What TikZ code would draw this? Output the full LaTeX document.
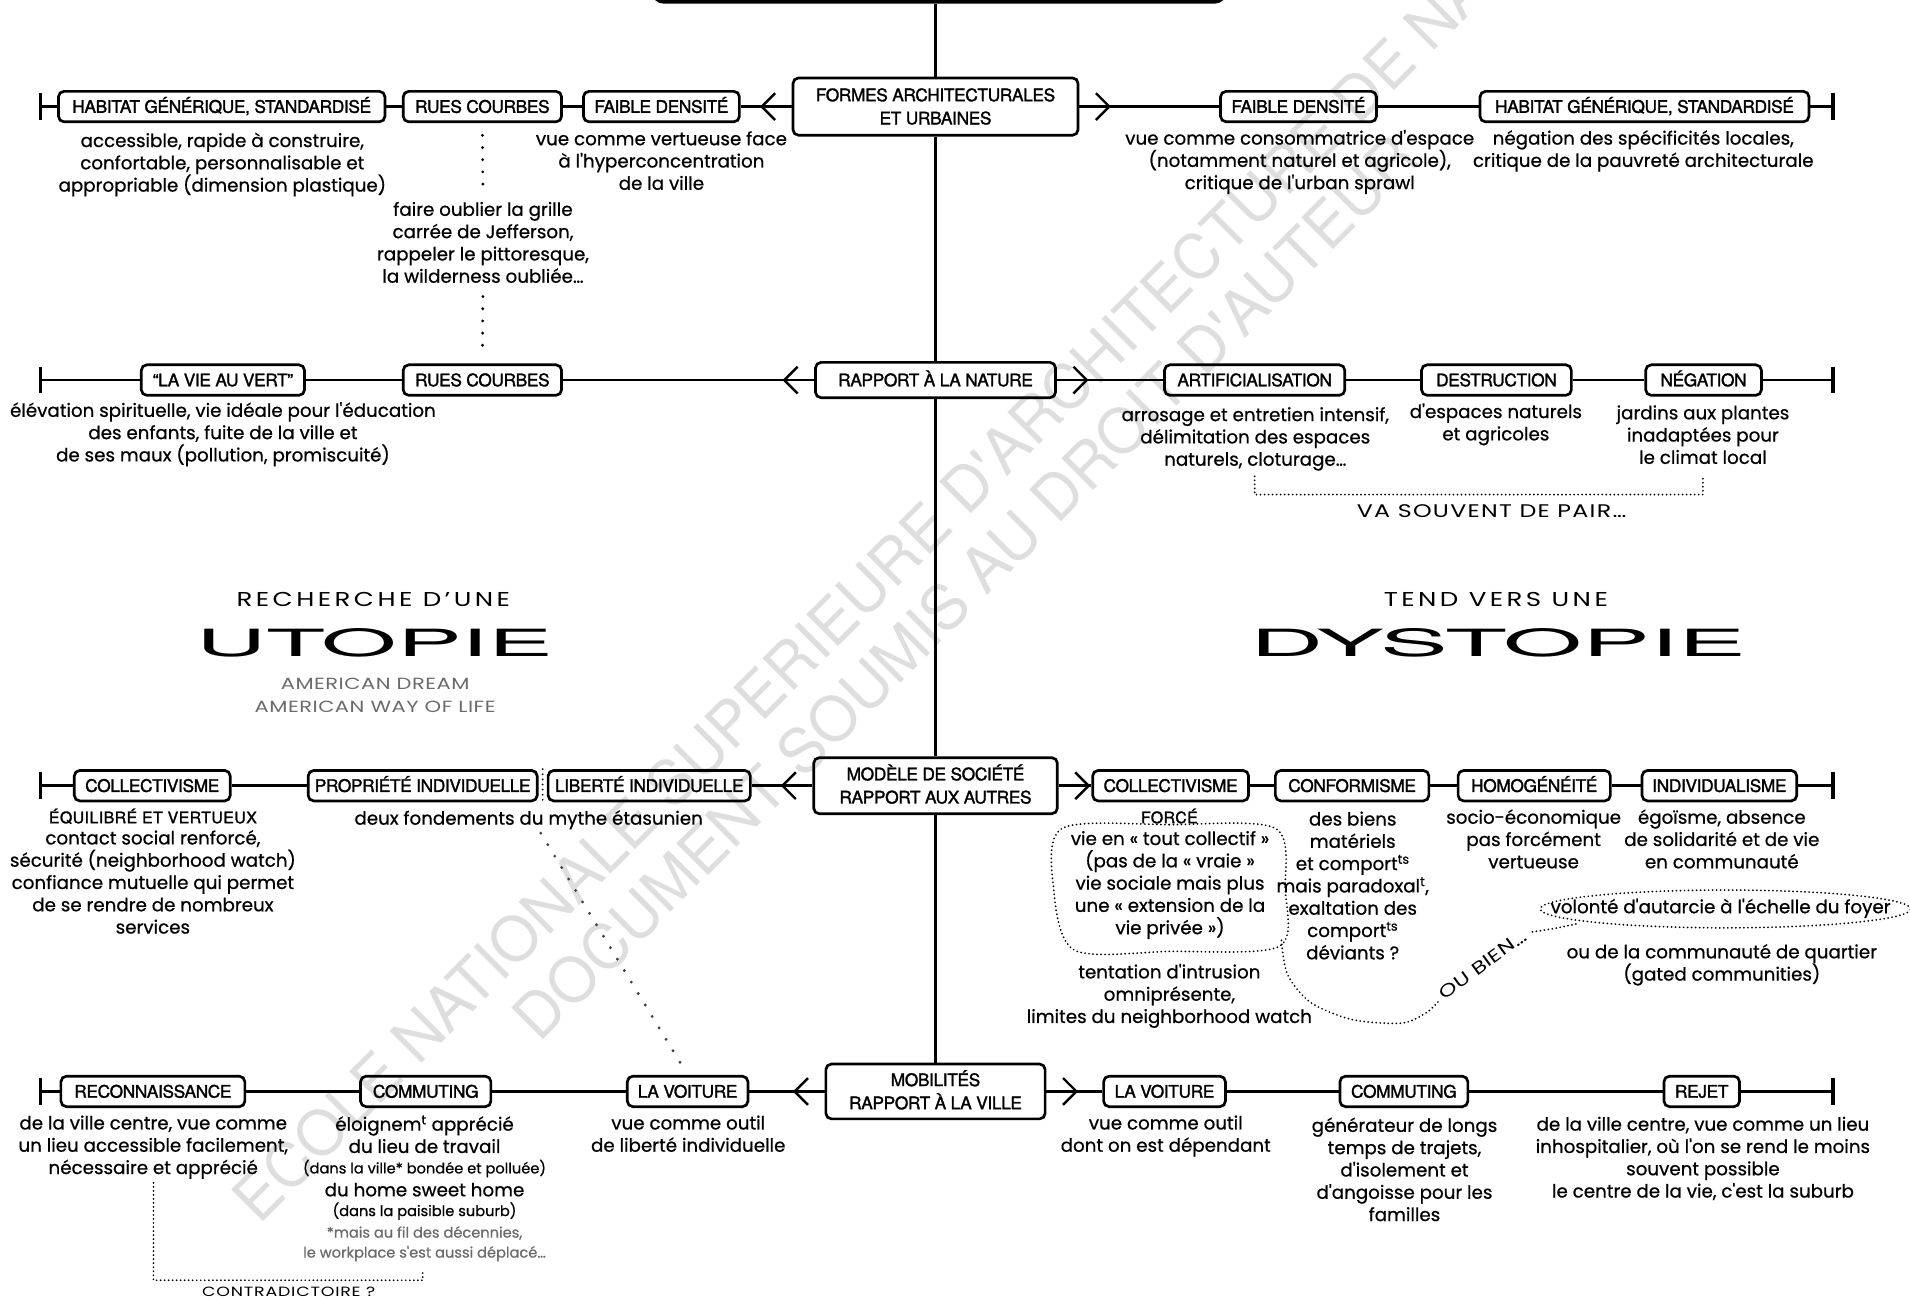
\documentclass[tikz,border=0pt]{standalone}
\usepackage{fontspec}
\usepackage{graphicx}
\usetikzlibrary{arrows.meta,decorations.markings,calc}
\setmainfont{Poppins}
\newfontfamily\heros{TeX Gyre Heros}
\newfontfamily\herosb{TeX Gyre Heros}[FakeBold=1.6]
\newfontfamily\popp{Poppins}[FakeBold=0.7]
\newfontfamily\widefnt{Poppins}[FakeStretch=1.3]
\newcommand\dscf{\popp\fontsize{15}{18.3}\selectfont}
\newcommand\smallf{\popp\fontsize{12}{14}\selectfont}
\newcommand\bxf{\herosb\fontsize{14.2}{19}\selectfont\addfontfeature{LetterSpace=-2}}
\newcommand\capf{\herosb\fontsize{13}{14}\selectfont\addfontfeature{LetterSpace=3}}
\newcommand\firstl{\rule{0pt}{12.5pt}}
\definecolor{gtxt}{gray}{0.42}
\definecolor{wmark}{gray}{0.87}
\begin{document}
\begin{tikzpicture}[x=1pt,y=-1pt,
  bx/.style={draw, line width=2.2pt, rounded corners=4.5pt, minimum height=25pt, inner sep=0pt, font=\bxf, text height=10.2pt, text depth=0pt},
  bxc/.style={draw, line width=2.2pt, rounded corners=4.5pt, inner sep=0pt, font=\bxf, align=center},
  cn/.style={line width=2pt},
  chev/.style={postaction={decorate}, decoration={markings, mark=at position 26pt with {\arrow{Straight Barb[length=11pt, width=22pt, line width=2pt]}}}},
  endtick/.style={{Bar[width=22pt, line width=2.6pt]}-, line width=2pt},
  dsc/.style={font=\dscf, align=center, anchor=north, inner sep=0pt},
  dsl/.style={font=\dscf, anchor=base, inner sep=0pt},
  bigdots/.style={line width=2.6pt, line cap=round, dash pattern=on 0pt off 10pt},
  fdots/.style={line width=1.6pt, line cap=round, dash pattern=on 0pt off 3.3pt},
  sepdots/.style={line width=1.6pt, line cap=round, dash pattern=on 0pt off 4.2pt}
]
\useasboundingbox (0,0) rectangle (1568,1066.4);

% watermark
\begin{scope}[every node/.style={text=wmark, font=\heros\fontsize{50.5}{50}\selectfont, inner sep=0pt, rotate=45, anchor=base west}]
\node (wm1) at (213,1006) {ECOLE NATIONALE SUPERIEURE D'ARCHITECTURE DE NA};
\node (wm2) at (443,857) {DOCUMENT SOUMIS AU DROIT D'AUTEUR};
\end{scope}

% top box (cut)
\node[draw, line width=3pt, rounded corners=9pt, minimum width=470pt, minimum height=60pt, inner sep=0pt] (top) at (771,-28.5) {};

% ---------- row 1
\node[bx, minimum width=268pt] (hab1) at (182,87.5) {HABITAT GÉNÉRIQUE, STANDARDISÉ};
\node[bx, minimum width=130pt] (rues1) at (396,87.5) {RUES COURBES};
\node[bx, minimum width=128pt] (faib1) at (543,87.5) {FAIBLE DENSITÉ};
\node[bxc, minimum width=234pt, minimum height=47pt] (formes) at (768,87.5) {\rule{0pt}{14.4pt}FORMES ARCHITECTURALES\\ET URBAINES\rule[-4.2pt]{0pt}{4.2pt}};
\node[bx, minimum width=128pt] (faib2) at (1066,87.5) {FAIBLE DENSITÉ};
\node[bx, minimum width=270pt] (hab2) at (1350,87.5) {HABITAT GÉNÉRIQUE, STANDARDISÉ};
\coordinate (t1l) at (32,87.5); \coordinate (t1r) at (1506,87.5);
\draw[endtick] (t1l) -- (hab1);
\draw[cn] (hab1) -- (rues1);
\draw[cn] (rues1) -- (faib1);
\draw[cn, chev] (formes) -- (faib1);
\draw[cn, chev] (formes) -- (faib2);
\draw[cn] (faib2) -- (hab2);
\draw[endtick] (t1r) -- (hab2);

\node[dsc] (dhab1) at (182.5,108) {\firstl accessible, rapide à construire,\\confortable, personnalisable et\\appropriable (dimension plastique)};
\node[dsc] (faire) at (396.5,164.5) {\firstl faire oublier la grille\\carrée de Jefferson,\\rappeler le pittoresque,\\la wilderness oubliée…};
\node[dsc] (dfaib1) at (543,106.5) {\firstl vue comme vertueuse face\\à l'hyperconcentration\\de la ville};
\node[dsc] (dfaib2) at (1067,106) {\firstl vue comme consommatrice d'espace\\(notamment naturel et agricole),\\critique de l'urban sprawl};
\node[dsc] (dhab2) at (1349,106) {\firstl négation des spécificités locales,\\critique de la pauvreté architecturale};

% ---------- row 2
\node[bx, minimum width=134pt] (vert) at (183,312) {“LA VIE AU VERT”};
\node[bx, minimum width=130pt] (rues2) at (396,312) {RUES COURBES};
\node[bx, minimum width=197pt, minimum height=29pt] (nature) at (768,312) {RAPPORT À LA NATURE};
\node[bx, minimum width=148pt] (artif) at (1030,312) {ARTIFICIALISATION};
\node[bx, minimum width=123pt] (destr) at (1228.5,312) {DESTRUCTION};
\node[bx, minimum width=95pt] (negat) at (1398.5,312) {NÉGATION};
\coordinate (t2l) at (32,312); \coordinate (t2r) at (1506,312);
\draw[endtick] (t2l) -- (vert);
\draw[cn] (vert) -- (rues2);
\draw[cn, chev] (nature) -- (rues2);
\draw[cn, chev] (nature) -- (artif);
\draw[cn] (artif) -- (destr);
\draw[cn] (destr) -- (negat);
\draw[endtick] (t2r) -- (negat);

\draw[bigdots, shorten <=10pt, shorten >=13pt] (rues1.south) -- (faire.north);
\draw[bigdots, shorten <=11pt, shorten >=10pt] (faire.south) -- (rues2.north);

\node[dsc] (dvert) at (183,329.5) {\firstl élévation spirituelle, vie idéale pour l'éducation\\des enfants, fuite de la ville et\\de ses maux (pollution, promiscuité)};
\node[dsc] (dartif) at (1030.5,333) {\firstl arrosage et entretien intensif,\\délimitation des espaces\\naturels, cloturage…};
\node[dsc] (ddestr) at (1228,330.5) {\firstl d'espaces naturels\\et agricoles};
\node[dsc] (dnegat) at (1398,331.5) {\firstl jardins aux plantes\\inadaptées pour\\le climat local};
\coordinate (vaL) at (1030,391); \coordinate (vaR) at (1398,392);
\coordinate (vaLb) at (1030,406); \coordinate (vaRb) at (1398,406);
\draw[fdots] (vaL) -- (vaLb) -- (vaRb) -- (vaR);
\node[anchor=base, inner sep=0pt, font=\widefnt\fontsize{15}{15}\selectfont\addfontfeature{LetterSpace=7}] (pair) at (1224.5,424.5) {VA SOUVENT DE PAIR…};

% ---------- middle titles
\node[anchor=base, inner sep=0pt, font=\widefnt\fontsize{16.5}{17}\selectfont\addfontfeature{LetterSpace=17}] (rech) at (306.5,497.5) {RECHERCHE D’UNE};
\node[anchor=north west, inner sep=0pt] (utopie) at (161,516) {\resizebox{293pt}{23pt}{\heros UTOPIE}};
\node[anchor=base, inner sep=0pt, text=gtxt, font=\widefnt\fontsize{13.3}{14}\selectfont\addfontfeature{LetterSpace=3}] (amer1) at (308,566.3) {AMERICAN DREAM};
\node[anchor=base, inner sep=0pt, text=gtxt, font=\widefnt\fontsize{13.3}{14}\selectfont\addfontfeature{LetterSpace=3}] (amer2) at (308,585.3) {AMERICAN WAY OF LIFE};
\node[anchor=base, inner sep=0pt, font=\widefnt\fontsize{16.5}{17}\selectfont\addfontfeature{LetterSpace=17}] (tend) at (1228,497.5) {TEND VERS UNE};
\node[anchor=north west, inner sep=0pt] (dystopie) at (1026,516) {\resizebox{407pt}{23pt}{\heros DYSTOPIE}};

% ---------- row 3
\node[bx, minimum width=128pt] (coll1) at (125,645) {COLLECTIVISME};
\node[bx, minimum width=188pt] (prop) at (347,645) {PROPRIÉTÉ INDIVIDUELLE};
\node[bx, minimum width=166pt] (lib) at (533,645) {LIBERTÉ INDIVIDUELLE};
\node[bxc, minimum width=200pt, minimum height=46pt] (modele) at (768,645) {\rule{0pt}{14.4pt}MODÈLE DE SOCIÉTÉ\\RAPPORT AUX AUTRES\rule[-4.2pt]{0pt}{4.2pt}};
\node[bx, minimum width=128pt] (coll2) at (961,645) {COLLECTIVISME};
\node[bx, minimum width=126pt] (conf) at (1110,645) {CONFORMISME};
\node[bx, minimum width=125pt] (homo) at (1259.5,645) {HOMOGÉNÉITÉ};
\node[bx, minimum width=127pt] (indiv) at (1411.5,645) {INDIVIDUALISME};
\coordinate (t3l) at (32,645); \coordinate (t3r) at (1506,645);
\draw[endtick] (t3l) -- (coll1);
\draw[cn] (coll1) -- (prop);
\draw[sepdots] ($(prop.north east)!0.5!(lib.north west)$) -- ($(prop.south east)!0.5!(lib.south west)$);
\draw[cn, chev] (modele) -- (lib);
\draw[cn, chev] (modele) -- (coll2);
\draw[cn] (coll2) -- (conf);
\draw[cn] (conf) -- (homo);
\draw[cn] (homo) -- (indiv);
\draw[endtick] (t3r) -- (indiv);

\node[anchor=base, inner sep=0pt, font=\capf] (equil) at (125.5,675.8) {ÉQUILIBRÉ ET VERTUEUX};
\node[dsc] (dcoll1) at (125.5,680.5) {\firstl contact social renforcé,\\sécurité (neighborhood watch)\\confiance mutuelle qui permet\\de se rendre de nombreux\\services};
\node[dsl] (deuxf) at (434,677) {deux fondements du mythe étasunien};
\node[anchor=base, inner sep=0pt, font=\capf] (force) at (960,675.8) {FORCÉ};
\node[dsc] (dforce) at (960.5,681) {\firstl vie en «~tout collectif~»\\(pas de la «~vraie~»\\vie sociale mais plus\\une «~extension de la\\vie privée~»)};
\node[dsc] (dtent) at (960,790.5) {\firstl tentation d'intrusion\\omniprésente,\\limites du neighborhood watch};
\node[dsc] (dconf) at (1110.5,665) {\firstl des biens\\matériels\\et comport\textsuperscript{ts}\\mais paradoxal\textsuperscript{t},\\exaltation des\\comport\textsuperscript{ts}\\déviants ?};
\node[dsc] (dhomo) at (1259,663.5) {\firstl socio-économique\\pas forcément\\vertueuse};
\node[dsc] (dindiv) at (1413.5,663.5) {\firstl égoïsme, absence\\de solidarité et de vie\\en communauté};
\node[dsl] (volonte) at (1412.5,749.7) {volonté d'autarcie à l'échelle du foyer};
\node[dsc] (dquart) at (1413.5,774) {\firstl ou de la communauté de quartier\\(gated communities)};
\node[rotate=36, inner sep=0pt, font=\widefnt\fontsize{14.5}{15}\selectfont\addfontfeature{LetterSpace=3}] (oubien) at (1217,792) {OU BIEN…};

\draw[fdots] plot[smooth cycle] coordinates {(872,680) (960,677) (1047,680) (1055,730) (1050,777) (960,781) (882,780) (865,730)};
\draw[fdots] plot[smooth] coordinates {(1052,772) (1057,800) (1076,823) (1110,837) (1150,840) (1170,832) (1181,822)};
\draw[fdots] plot[smooth] coordinates {(1258,765) (1277,762) (1296,758)};
\draw[fdots] ([xshift=4pt,yshift=-0.5pt]volonte.center) ellipse [x radius=152pt, y radius=15.5pt];

% ---------- row 4
\node[bx, minimum width=151pt] (recon) at (125.5,896) {RECONNAISSANCE};
\node[bx, minimum width=107pt] (comm1) at (349.5,896) {COMMUTING};
\node[bx, minimum width=99pt] (voit1) at (564.5,896) {LA VOITURE};
\node[bxc, minimum width=180pt, minimum height=45pt] (mobil) at (768,896) {\rule{0pt}{14.4pt}MOBILITÉS\\RAPPORT À LA VILLE\rule[-4.2pt]{0pt}{4.2pt}};
\node[bx, minimum width=100pt] (voit2) at (956,896) {LA VOITURE};
\node[bx, minimum width=105pt] (comm2) at (1152.5,896) {COMMUTING};
\node[bx, minimum width=62pt] (rejet) at (1397,896) {REJET};
\coordinate (t4l) at (32,896); \coordinate (t4r) at (1506,896);
\draw[endtick] (t4l) -- (recon);
\draw[cn] (recon) -- (comm1);
\draw[cn] (comm1) -- (voit1);
\draw[cn, chev] (mobil) -- (voit1);
\draw[cn, chev] (mobil) -- (voit2);
\draw[cn] (voit2) -- (comm2);
\draw[cn] (comm2) -- (rejet);
\draw[endtick] (t4r) -- (rejet);

\coordinate (dfa) at (444,684);
\draw[bigdots, black!75, dash pattern=on 0pt off 11pt, shorten >=9pt] (dfa) -- (voit1.north);

% central spine
\draw[cn] (top.south -| formes.north) -- (formes.north);
\draw[cn] (formes) -- (nature);
\draw[cn] (nature) -- (modele);
\draw[cn] (modele) -- (mobil);

\node[dsc] (drecon) at (125.8,914.5) {\firstl de la ville centre, vue comme\\un lieu accessible facilement,\\nécessaire et apprécié};
\node[dsc] (dcomm1a) at (348.5,915.5) {\firstl éloignem\textsuperscript{t} apprécié\\du lieu de travail};
\node[anchor=base, inner sep=0pt, font=\smallf] (dcomm1b) at (348.5,963.3) {(dans la ville* bondée et polluée)};
\node[dsl] (dcomm1c) at (348.5,982.1) {du home sweet home};
\node[anchor=base, inner sep=0pt, font=\smallf] (dcomm1d) at (348.5,998.3) {(dans la paisible suburb)};
\node[anchor=base, inner sep=0pt, font=\smallf, text=gtxt] (dcomm1e) at (348.5,1016) {*mais au fil des décennies,};
\node[anchor=base, inner sep=0pt, font=\smallf, text=gtxt] (dcomm1f) at (348.5,1032.4) {le workplace s'est aussi déplacé…};
\node[dsc] (dvoit1) at (565,914.5) {\firstl vue comme outil\\de liberté individuelle};
\node[dsc] (dvoit2) at (957,914.5) {\firstl vue comme outil\\dont on est dépendant};
\node[dsc] (dcomm2) at (1153,916.5) {\firstl générateur de longs\\temps de trajets,\\d'isolement et\\d'angoisse pour les\\familles};
\node[dsc] (drejet) at (1398,915.5) {\firstl de la ville centre, vue comme un lieu\\inhospitalier, où l'on se rend le moins\\souvent possible\\le centre de la vie, c'est la suburb};

\coordinate (ctL) at (126,971); \coordinate (ctR) at (347,1043);
\coordinate (ctLb) at (126,1051); \coordinate (ctRb) at (347,1051);
\draw[fdots] (ctL) -- (ctLb) -- (ctRb) -- (ctR);
\node[anchor=base, inner sep=0pt, font=\widefnt\fontsize{11}{11}\selectfont\addfontfeature{LetterSpace=6}] (contra) at (237,1064.5) {CONTRADICTOIRE ?};
\end{tikzpicture}
\end{document}
